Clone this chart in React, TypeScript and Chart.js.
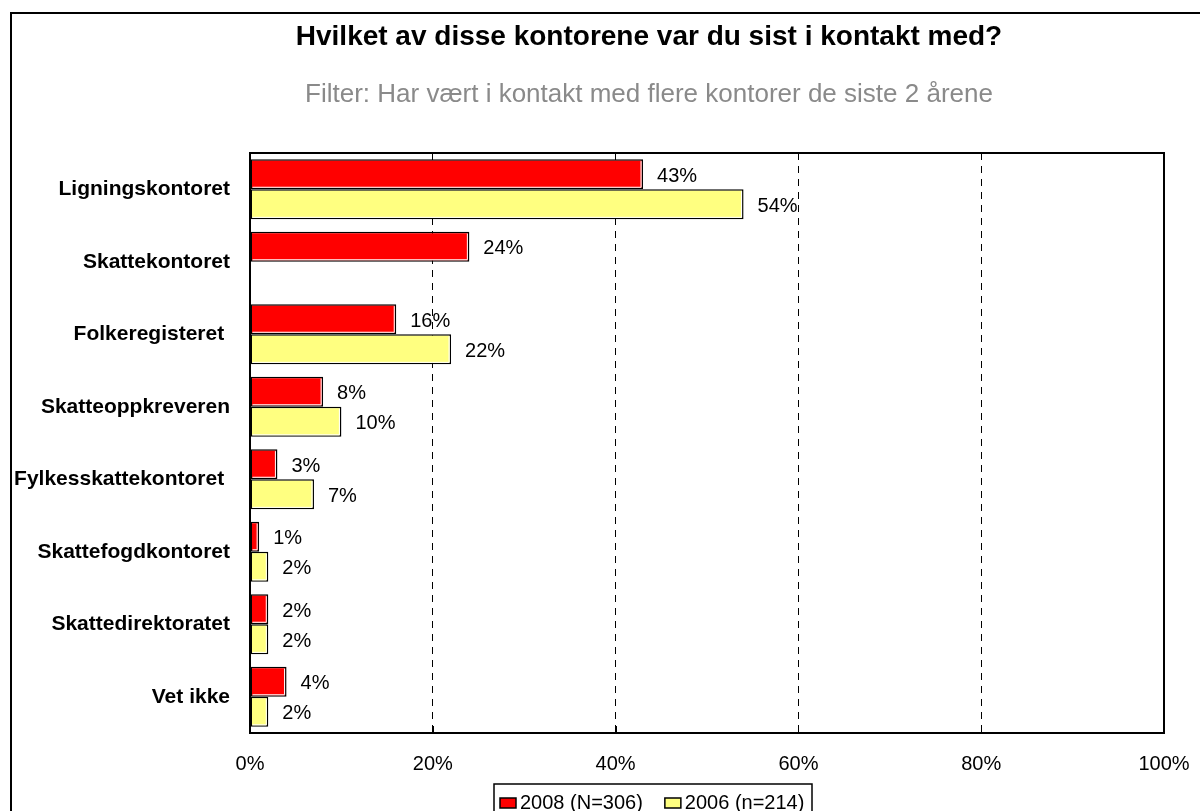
import React, { useEffect, useRef } from "react";
import { Chart, registerables } from "chart.js";

Chart.register(...registerables);

const TITLE = "Hvilket av disse kontorene var du sist i kontakt med?";
const SUBTITLE = "Filter: Har vært i kontakt med flere kontorer de siste 2 årene";
const categories = [
  "Ligningskontoret",
  "Skattekontoret",
  "Folkeregisteret ",
  "Skatteoppkreveren",
  "Fylkesskattekontoret ",
  "Skattefogdkontoret",
  "Skattedirektoratet",
  "Vet ikke",
];
const series2008: (number | null)[] = [43, 24, 16, 8, 3, 1, 2, 4];
const series2006: (number | null)[] = [54, null, 22, 10, 7, 2, 2, 2];
const seriesLabels = ["2008 (N=306)", "2006 (n=214)"];
const seriesColors = ["#FF0000", "#FFFF80"];
const xTickValues = [0, 20, 40, 60, 80, 100];

const FONT = "'Liberation Sans', Arial, Helvetica, sans-serif";

const decorPlugin = {
  id: "decor",
  beforeDraw(chart: any) {
    const ctx = chart.ctx;
    ctx.save();
    ctx.fillStyle = "#fff";
    ctx.fillRect(0, 0, chart.width, chart.height);
    // outer frame
    ctx.strokeStyle = "#000";
    ctx.lineWidth = 2;
    ctx.beginPath();
    ctx.moveTo(11, chart.height + 5);
    ctx.lineTo(11, 13);
    ctx.lineTo(chart.width + 5, 13);
    ctx.stroke();
    // title
    ctx.fillStyle = "#000";
    ctx.textAlign = "center";
    ctx.textBaseline = "middle";
    ctx.font = `bold 28px ${FONT}`;
    ctx.fillText(TITLE, 649, 37);
    ctx.fillStyle = "#8a8a8a";
    ctx.font = `26px ${FONT}`;
    ctx.fillText(SUBTITLE, 649, 95);
    ctx.restore();
  },
  afterDatasetsDraw(chart: any) {
    // thin white inner edge on bars (bottom and right), like the original
    const ctx = chart.ctx;
    ctx.save();
    ctx.strokeStyle = "#fff";
    ctx.lineWidth = 1;
    chart.data.datasets.forEach((ds: any, di: number) => {
      const meta = chart.getDatasetMeta(di);
      meta.data.forEach((el: any, i: number) => {
        const v = ds.data[i];
        if (v === null || v === undefined) return;
        const top = el.y - el.height / 2;
        const bottom = el.y + el.height / 2;
        const left = el.base;
        const right = el.x;
        if (right - left < 5) return;
        ctx.beginPath();
        ctx.moveTo(left + 2, bottom - 2);
        ctx.lineTo(right - 2, bottom - 2);
        ctx.lineTo(right - 2, top + 2);
        ctx.stroke();
      });
    });
    ctx.restore();
  },
  afterDraw(chart: any) {
    const ctx = chart.ctx;
    const area = chart.chartArea;
    const xs = chart.scales.x;
    ctx.save();
    // plot frame
    ctx.strokeStyle = "#000";
    ctx.lineWidth = 2;
    ctx.strokeRect(area.left, area.top, area.right - area.left, area.bottom - area.top);
    // inside tick marks
    ctx.lineWidth = 1;
    xTickValues.forEach((v) => {
      const px = Math.round(xs.getPixelForValue(v)) + 0.5;
      ctx.beginPath();
      ctx.moveTo(px, area.bottom);
      ctx.lineTo(px, area.bottom - 7);
      ctx.stroke();
    });
    // data labels
    ctx.fillStyle = "#000";
    ctx.font = `20px ${FONT}`;
    ctx.textAlign = "left";
    ctx.textBaseline = "middle";
    chart.data.datasets.forEach((ds: any, di: number) => {
      const meta = chart.getDatasetMeta(di);
      meta.data.forEach((el: any, i: number) => {
        const v = ds.data[i];
        if (v === null || v === undefined) return;
        ctx.fillText(`${v}%`, el.x + 14, el.y + 2);
      });
    });
    // legend
    const boxL = 494;
    const boxT = 784;
    ctx.lineWidth = 1.5;
    ctx.strokeStyle = "#000";
    ctx.strokeRect(boxL, boxT, 318, 60);
    ctx.font = `20px ${FONT}`;
    let x = 500;
    chart.data.datasets.forEach((ds: any, di: number) => {
      ctx.fillStyle = seriesColors[di];
      ctx.fillRect(x, 798, 16, 10);
      ctx.lineWidth = 1.5;
      ctx.strokeRect(x, 798, 16, 10);
      ctx.fillStyle = "#000";
      ctx.fillText(ds.label, x + 20, 803);
      x += 20 + ctx.measureText(ds.label).width + 22;
    });
    ctx.restore();
  },
};

export default function App() {
  const canvasRef = useRef<HTMLCanvasElement | null>(null);

  useEffect(() => {
    document.body.style.overflow = "hidden";
    const canvas = canvasRef.current;
    if (!canvas) return;
    Chart.defaults.font.family = FONT;
    const chart = new Chart(canvas, {
      type: "bar",
      data: {
        labels: categories,
        datasets: [
          {
            label: seriesLabels[0],
            data: series2008,
            backgroundColor: seriesColors[0],
            borderColor: "#000",
            borderWidth: 1.5,
            borderSkipped: false,
            categoryPercentage: 0.83,
            barPercentage: 1,
          },
          {
            label: seriesLabels[1],
            data: series2006,
            backgroundColor: seriesColors[1],
            borderColor: "#000",
            borderWidth: 1.5,
            borderSkipped: false,
            categoryPercentage: 0.83,
            barPercentage: 1,
          },
        ],
      },
      options: {
        indexAxis: "y",
        responsive: false,
        animation: false,
        devicePixelRatio: 1,
        layout: { padding: { top: 153, right: 36, bottom: 0, left: 0 } },
        plugins: {
          legend: { display: false },
          title: { display: false },
          tooltip: { enabled: false },
        },
        scales: {
          x: {
            type: "linear",
            position: "bottom",
            min: 0,
            max: 100,
            afterBuildTicks: (scale: any) => {
              scale.ticks = xTickValues.map((v) => ({ value: v }));
            },
            afterFit: (scale: any) => {
              scale.height = 78;
              scale.paddingLeft = 0;
              scale.paddingRight = 0;
            },
            ticks: {
              autoSkip: false,
              maxRotation: 0,
              padding: 19,
              color: "#000",
              font: { size: 20 },
              callback: (v: any) => `${v}%`,
            },
            grid: {
              drawTicks: false,
              lineWidth: 1,
              color: (c: any) =>
                c.tick && (c.tick.value === 0 || c.tick.value === 100) ? "rgba(0,0,0,0)" : "#000",
            },
            border: { display: false, dash: [7, 6] },
          },
          y: {
            position: "left",
            afterFit: (scale: any) => {
              scale.width = 250;
              scale.paddingTop = 0;
              scale.paddingBottom = 0;
            },
            ticks: {
              padding: 20,
              color: "#000",
              font: { size: 21, weight: "bold" },
            },
            grid: { display: false, drawTicks: false },
            border: { display: false },
          },
        },
      },
      plugins: [decorPlugin],
    } as any);
    return () => chart.destroy();
  }, []);

  return (
    <div style={{ position: "absolute", left: 0, top: 0, width: 1200, height: 811 }}>
      <canvas ref={canvasRef} width={1200} height={811} style={{ display: "block", width: 1200, height: 811 }} />
    </div>
  );
}
